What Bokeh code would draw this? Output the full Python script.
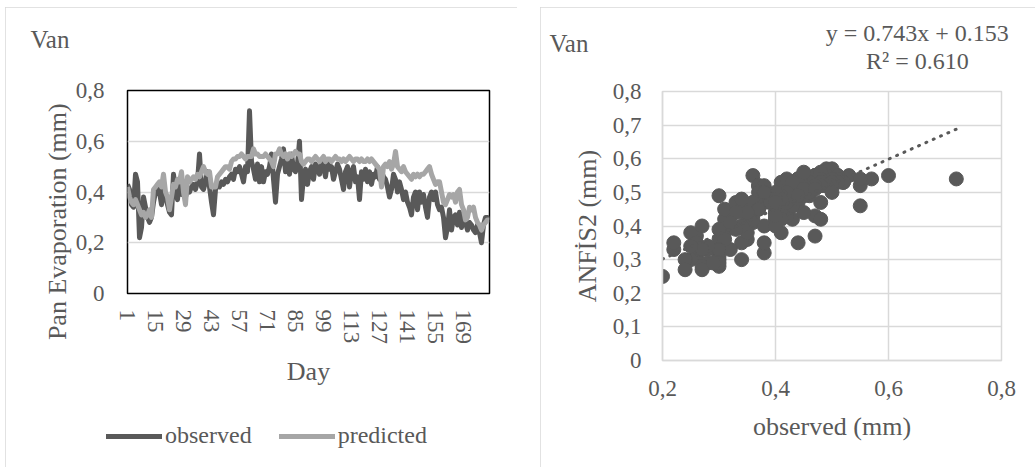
import math
from bokeh.plotting import figure
from bokeh.models import (Range1d, FixedTicker, CustomJSTickFormatter, Legend,
                          LegendItem, Label, ColumnDataSource)
from bokeh.embed import file_html
from bokeh.resources import INLINE

# ---------------- data ----------------
days = list(range(1, 183))
observed = [
    0.43, 0.41, 0.35, 0.34, 0.47, 0.44, 0.22, 0.26, 0.38, 0.34,
    0.30, 0.28, 0.30, 0.36, 0.40, 0.42, 0.40, 0.35, 0.43, 0.38,
    0.35, 0.32, 0.31, 0.47, 0.40, 0.37, 0.45, 0.39, 0.40, 0.38,
    0.41, 0.40, 0.42, 0.43, 0.41, 0.44, 0.55, 0.42, 0.41, 0.44,
    0.48, 0.42, 0.36, 0.31, 0.41, 0.43, 0.42, 0.44, 0.43, 0.45,
    0.44, 0.46, 0.47, 0.45, 0.49, 0.48, 0.50, 0.47, 0.44, 0.50,
    0.48, 0.72, 0.52, 0.49, 0.45, 0.51, 0.44, 0.50, 0.44, 0.48,
    0.47, 0.50, 0.55, 0.45, 0.36, 0.47, 0.50, 0.53, 0.57, 0.48,
    0.52, 0.47, 0.55, 0.49, 0.48, 0.51, 0.60, 0.37, 0.46, 0.49,
    0.43, 0.48, 0.50, 0.45, 0.51, 0.49, 0.47, 0.52, 0.50, 0.46,
    0.52, 0.49, 0.50, 0.45, 0.48, 0.51, 0.49, 0.45, 0.41, 0.48,
    0.50, 0.42, 0.48, 0.50, 0.44, 0.46, 0.37, 0.48, 0.45, 0.49,
    0.44, 0.48, 0.43, 0.47, 0.46, 0.50, 0.45, 0.48, 0.46, 0.45,
    0.42, 0.38, 0.41, 0.47, 0.45, 0.40, 0.44, 0.41, 0.37, 0.40,
    0.36, 0.34, 0.31, 0.38, 0.40, 0.33, 0.40, 0.36, 0.39, 0.34,
    0.30, 0.38, 0.40, 0.37, 0.40, 0.35, 0.33, 0.34, 0.30, 0.22,
    0.26, 0.33, 0.25, 0.30, 0.31, 0.27, 0.32, 0.26, 0.30, 0.28,
    0.25, 0.28, 0.27, 0.25, 0.24, 0.27, 0.24, 0.20, 0.27, 0.30,
    0.30, 0.29,
]
predicted = [
    0.42, 0.38, 0.36, 0.35, 0.37, 0.35, 0.33, 0.31, 0.32, 0.30,
    0.31, 0.33, 0.30, 0.41, 0.42, 0.43, 0.44, 0.42, 0.47, 0.40,
    0.38, 0.33, 0.38, 0.43, 0.42, 0.45, 0.44, 0.48, 0.40, 0.35,
    0.46, 0.44, 0.45, 0.46, 0.45, 0.47, 0.46, 0.48, 0.50, 0.48,
    0.47, 0.48, 0.42, 0.42, 0.42, 0.46, 0.47, 0.48, 0.49, 0.50,
    0.50, 0.49, 0.52, 0.53, 0.53, 0.54, 0.54, 0.55, 0.54, 0.53,
    0.54, 0.54, 0.54, 0.57, 0.55, 0.55, 0.54, 0.54, 0.54, 0.55,
    0.54, 0.53, 0.52, 0.50, 0.55, 0.55, 0.57, 0.55, 0.54, 0.55,
    0.53, 0.55, 0.54, 0.55, 0.56, 0.55, 0.55, 0.52, 0.51, 0.52,
    0.53, 0.53, 0.52, 0.53, 0.54, 0.53, 0.52, 0.53, 0.54, 0.52,
    0.53, 0.53, 0.52, 0.53, 0.54, 0.53, 0.53, 0.52, 0.53, 0.52,
    0.53, 0.54, 0.53, 0.52, 0.53, 0.53, 0.52, 0.53, 0.52, 0.52,
    0.53, 0.52, 0.53, 0.52, 0.51, 0.50, 0.49, 0.42, 0.50, 0.51,
    0.50, 0.52, 0.49, 0.51, 0.56, 0.50, 0.49, 0.48, 0.50, 0.48,
    0.47, 0.46, 0.45, 0.47, 0.46, 0.47, 0.46, 0.47, 0.47, 0.48,
    0.49, 0.50, 0.47, 0.45, 0.43, 0.44, 0.44, 0.40, 0.36, 0.35,
    0.37, 0.39, 0.38, 0.39, 0.36, 0.40, 0.41, 0.35, 0.33, 0.29,
    0.30, 0.34, 0.33, 0.34, 0.30, 0.28, 0.27, 0.25, 0.27, 0.28,
    0.29, 0.29,
]
day_ticks = list(range(1, 170, 14))
left_y_ticks = [0, 0.2, 0.4, 0.6, 0.8]
right_x_ticks = [0.2, 0.4, 0.6, 0.8]
right_y_ticks = [0, 0.1, 0.2, 0.3, 0.4, 0.5, 0.6, 0.7, 0.8]
series_names = ["observed", "predicted"]
slope = 0.743
intercept = 0.153
r_squared = 0.610
station = "Van"

# ---------------- style ----------------
FONT = "Liberation Serif"
TXT = "#595959"
DARK = "#595959"
LIGHT = "#a6a6a6"
GRID = "#d9d9d9"
LINE_W = 5

comma_fmt = CustomJSTickFormatter(
    code="return tick == 0 ? '0' : tick.toFixed(1).replace('.', ',');")


def style_axis(ax, label_size="26px", tick_size="23px"):
    ax.major_label_text_font = FONT
    ax.major_label_text_font_size = tick_size
    ax.major_label_text_color = TXT
    ax.axis_label_text_font = FONT
    ax.axis_label_text_font_size = label_size
    ax.axis_label_text_color = TXT
    ax.axis_label_text_font_style = "normal"
    ax.major_tick_line_color = None
    ax.minor_tick_line_color = None
    ax.major_tick_out = 0
    ax.major_tick_in = 0


def place(left, top, outline=True):
    s = {"position": "absolute", "left": f"{left}px", "top": f"{top}px"}
    if outline:
        s.update({"outline": "1px solid #d9d9d9", "outline-offset": "-1px"})
    return s


def text_label(**kw):
    base = dict(text_font=FONT, text_color=TXT, text_baseline="middle")
    base.update(kw)
    return Label(**base)


src1 = ColumnDataSource(dict(day=days, obs=observed, pred=predicted))

# ---------------- left: time series ----------------
p1 = figure(width=512, height=460, output_backend="svg", toolbar_location=None,
            x_range=Range1d(1, 182), y_range=Range1d(0, 0.8),
            min_border_left=122, min_border_right=28,
            min_border_top=83, min_border_bottom=174)
p1.styles = place(5, 7)
p1.outline_line_color = "black"
p1.outline_line_width = 1.5
p1.xgrid.grid_line_color = None
p1.ygrid.ticker = FixedTicker(ticks=[0.2, 0.4, 0.6])
p1.ygrid.grid_line_color = GRID
p1.ygrid.grid_line_width = 1.5

p1.line("day", "obs", source=src1, line_color=DARK, line_width=LINE_W,
        line_join="round")
p1.line("day", "pred", source=src1, line_color=LIGHT, line_width=LINE_W,
        line_join="round")

xa = p1.xaxis[0]
xa.ticker = FixedTicker(ticks=day_ticks)
xa.major_label_orientation = "vertical"
xa.axis_label = "Day"
xa.axis_line_color = None
style_axis(xa)
xa.major_label_standoff = 16
xa.axis_label_standoff = 10

ya = p1.yaxis[0]
ya.ticker = FixedTicker(ticks=left_y_ticks)
ya.formatter = comma_fmt
ya.axis_line_color = None
style_axis(ya)
ya.major_label_standoff = 23

# y-axis title (Excel centres it lower than the frame centre)
p1.add_layout(text_label(x=-34, y=0.283, text="Pan Evaporation (mm)",
                         text_font_size="26px", text_align="center",
                         angle=math.pi / 2), "left")
p1.add_layout(text_label(x=-47.5, y=1.0, text=station, text_font_size="25px",
                         text_align="left"), "above")

# ---------------- legend of the left chart (own small canvas) ----------------
# the two series are attached here only so that the legend can draw their
# swatches; the ranges keep the lines themselves out of view.
p3 = figure(width=340, height=34, output_backend="svg", toolbar_location=None,
            x_range=Range1d(-2, -1), y_range=Range1d(-2, -1),
            x_axis_type=None, y_axis_type=None,
            min_border_left=0, min_border_right=0,
            min_border_top=0, min_border_bottom=0)
p3.styles = place(100, 418, outline=False)
p3.outline_line_color = None
p3.background_fill_color = None
p3.border_fill_color = None
p3.xgrid.grid_line_color = None
p3.ygrid.grid_line_color = None
lg_obs = p3.line("day", "obs", source=src1, line_color=DARK, line_width=LINE_W,
                 line_cap="round")
lg_pred = p3.line("day", "pred", source=src1, line_color=LIGHT,
                  line_width=LINE_W, line_cap="round")
legend = Legend(items=[LegendItem(label=series_names[0], renderers=[lg_obs]),
                       LegendItem(label=series_names[1], renderers=[lg_pred])],
                location=(6, 3), orientation="horizontal",
                glyph_width=56, glyph_height=24, label_standoff=3, spacing=27,
                padding=0, margin=0, border_line_color=None,
                background_fill_alpha=0, label_text_font=FONT,
                label_text_font_size="24px", label_text_color=TXT)
p3.add_layout(legend)

# ---------------- right: scatter ----------------
p2 = figure(width=495, height=460, output_backend="svg", toolbar_location=None,
            x_range=Range1d(0.2, 0.8), y_range=Range1d(0, 0.8),
            min_border_left=122, min_border_right=34,
            min_border_top=84, min_border_bottom=107)
p2.styles = place(540, 7)
p2.outline_line_color = GRID
p2.outline_line_width = 1.5
p2.xgrid.ticker = FixedTicker(ticks=right_x_ticks)
p2.ygrid.ticker = FixedTicker(ticks=right_y_ticks)
for g in (p2.xgrid[0], p2.ygrid[0]):
    g.grid_line_color = GRID
    g.grid_line_width = 1.5

src2 = ColumnDataSource(dict(obs=observed, pred=predicted))
p2.scatter("obs", "pred", source=src2, size=14, fill_color=DARK,
           line_color=DARK)

x_lo, x_hi = min(observed), max(observed)
trend = ColumnDataSource(dict(x=[x_lo, x_hi],
                              y=[slope * x_lo + intercept, slope * x_hi + intercept]))
p2.line("x", "y", source=trend, line_color=DARK, line_width=3,
        line_dash="1 7", line_cap="round")

xb = p2.xaxis[0]
xb.ticker = FixedTicker(ticks=right_x_ticks)
xb.formatter = comma_fmt
xb.axis_label = "observed (mm)"
xb.axis_line_color = GRID
xb.axis_line_width = 1.5
style_axis(xb)
xb.major_label_standoff = 20
xb.axis_label_standoff = 13

yb = p2.yaxis[0]
yb.ticker = FixedTicker(ticks=right_y_ticks)
yb.formatter = comma_fmt
yb.axis_label = "ANFİS2 (mm)"
yb.axis_line_color = GRID
yb.axis_line_width = 1.5
style_axis(yb)
yb.major_label_standoff = 21
yb.axis_label_standoff = 8

p2.add_layout(text_label(x=0.0, y=0.943, text=station, text_font_size="25px",
                         text_align="left"), "above")
p2.add_layout(text_label(x=0.651, y=0.975,
                         text=f"y = {slope:.3f}x + {intercept:.3f}",
                         text_font_size="24px", text_align="center"), "above")
p2.add_layout(text_label(x=0.651, y=0.892, text=f"R² = {r_squared:.3f}",
                         text_font_size="24px", text_align="center"), "above")

open("out.html", "w").write(file_html([p1, p2, p3], INLINE))
